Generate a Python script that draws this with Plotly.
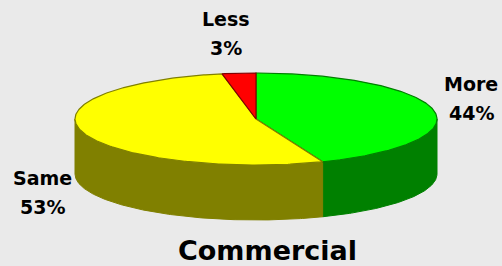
import numpy as np
import plotly.graph_objects as go

# ---- data ----
labels = ["More", "Same", "Less"]
values = [44, 53, 3]
top_colors = ["#00FF00", "#FFFF00", "#FF0000"]
side_colors = ["#008000", "#808000", "#800000"]
edge_colors = ["#008000", "#808000", "#800000"]
chart_title = "Commercial"

# ---- geometry of the 3D pie (pixel space) ----
W, H = 502, 266
CX, CY, RX, RY, DEPTH = 256, 119, 181, 46, 55


def arc(a0, a1, dy=0, n=None):
    if n is None:
        n = max(2, int(abs(a1 - a0) * 1.5))
    t = np.radians(np.linspace(a0, a1, n))
    return CX + RX * np.sin(t), CY - RY * np.cos(t) + dy


fig = go.Figure()
total = sum(values)
starts, ends = [], []
acc = 0.0
for v in values:
    starts.append(acc / total * 360)
    acc += v
    ends.append(acc / total * 360)

# side faces (front half only: 90..270 deg clockwise from top)
for i in range(len(values)):
    s, e = max(starts[i], 90), min(ends[i], 270)
    if e <= s:
        continue
    xt, yt = arc(s, e)
    xb, yb = arc(e, s, dy=DEPTH)
    xs = np.concatenate([xt, xb, xt[:1]])
    ys = np.concatenate([yt, yb, yt[:1]])
    fig.add_trace(go.Scatter(x=xs, y=ys, mode="lines", fill="toself",
                             fillcolor=side_colors[i],
                             line=dict(color=side_colors[i], width=1),
                             hoverinfo="skip", showlegend=False))

# top faces
for i in range(len(values)):
    xa, ya = arc(starts[i], ends[i])
    xs = np.concatenate([[CX], xa, [CX]])
    ys = np.concatenate([[CY], ya, [CY]])
    fig.add_trace(go.Scatter(x=xs, y=ys, mode="lines", fill="toself",
                             fillcolor=top_colors[i],
                             line=dict(color=edge_colors[i], width=1.2),
                             hoverinfo="skip", showlegend=False,
                             name=labels[i]))

# labels
label_pos = {"More": (471, 84, 113), "Same": (42, 178, 207), "Less": (226, 19, 48)}
lab_font = dict(family="DejaVu Sans", size=19, color="black", weight="bold")
ann = []
for lab, v in zip(labels, values):
    x, y1, y2 = label_pos[lab]
    ann.append(dict(x=x, y=y1, xref="x", yref="y", text=f"<b>{lab}</b>",
                    showarrow=False, font=lab_font, xanchor="center", yanchor="middle"))
    ann.append(dict(x=x, y=y2, xref="x", yref="y", text=f"<b>{v}%</b>",
                    showarrow=False, font=lab_font, xanchor="center", yanchor="middle"))
ann.append(dict(x=267, y=250, xref="x", yref="y", text=f"<b>{chart_title}</b>",
                showarrow=False,
                font=dict(family="DejaVu Sans", size=27, color="black"),
                xanchor="center", yanchor="middle"))

fig.update_layout(
    width=W, height=H,
    margin=dict(l=0, r=0, t=0, b=0),
    paper_bgcolor="#EAEAEA", plot_bgcolor="#EAEAEA",
    xaxis=dict(range=[0, W], visible=False, fixedrange=True),
    yaxis=dict(range=[H, 0], visible=False, fixedrange=True),
    annotations=ann,
)

fig.write_html("out.html", config={"displayModeBar": False},
               post_script="document.body.style.margin='0';document.body.style.overflow='hidden';")
